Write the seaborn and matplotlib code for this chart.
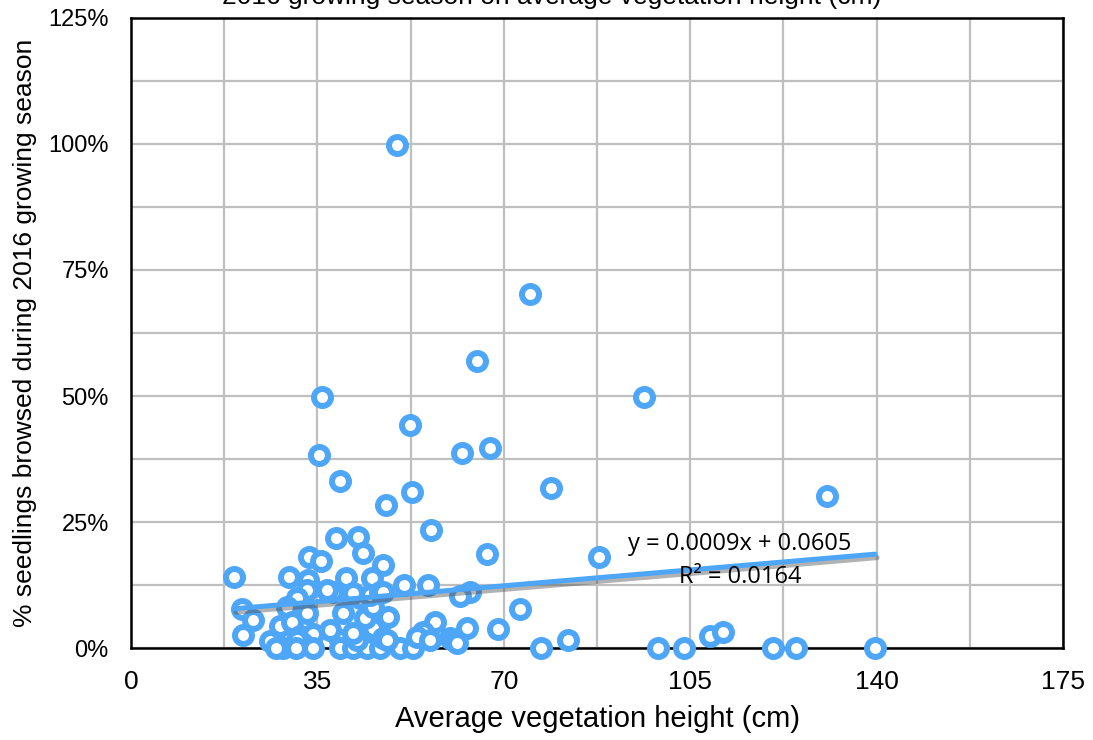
import numpy as np
import pandas as pd
import matplotlib
matplotlib.use("Agg")
import matplotlib.pyplot as plt
import matplotlib.patheffects as pe
from matplotlib.ticker import MultipleLocator, PercentFormatter
import seaborn as sns

# vegetation height (cm) and share of seedlings browsed (%)
veg_height = [
    50.0, 74.9, 65.0, 35.9, 96.3, 52.4, 35.3, 62.1, 67.4, 39.2, 78.9, 52.8, 130.7,
    47.9, 56.3, 38.5, 42.6, 66.8, 87.9, 33.4, 35.7, 43.6, 47.3, 19.3, 29.7, 40.4,
    45.2, 33.4, 51.3, 55.8, 20.9, 21.1, 22.9, 63.6, 61.8, 73.0, 68.9, 82.0, 77.0,
    98.9, 103.8, 108.7, 111.2, 120.5, 124.9, 139.7,
    33.2, 33.0, 31.2, 37.9, 36.8, 29.3, 33.0, 39.8, 28.0, 30.2, 26.1, 31.7, 34.2,
    32.1, 28.5, 34.2, 31.2, 39.2, 37.4, 39.2, 41.7, 44.3, 46.8, 50.5, 52.9, 42.4,
    41.7, 45.4, 47.3, 48.1, 44.0, 48.3, 45.4, 43.0, 41.7, 44.9, 46.8, 47.3, 57.1,
    54.8, 53.7, 56.1, 59.9, 60.5, 61.2, 63.1, 31.0, 27.2,
]
pct_browsed = [
    99.8, 70.2, 56.9, 49.8, 49.8, 44.2, 38.3, 38.7, 39.7, 33.1, 31.7, 31.0, 30.2,
    28.4, 23.4, 21.8, 22.0, 18.7, 18.1, 18.1, 17.3, 18.8, 16.5, 14.1, 14.1, 13.9,
    13.9, 12.5, 12.5, 12.5, 7.7, 2.6, 5.6, 11.1, 10.3, 7.7, 3.8, 1.6, 0.0,
    0.0, 0.0, 2.4, 3.2, 0.0, 0.0, 0.0,
    13.5, 11.5, 9.9, 11.1, 11.5, 8.1, 6.9, 6.9, 4.4, 5.2, 1.4, 2.4, 2.8,
    1.0, 0.0, 0.0, 1.6, 1.6, 3.6, 0.0, 0.0, 0.0, 0.0, 0.0, 0.0, 1.6,
    3.0, 4.0, 2.0, 1.6, 6.0, 6.2, 8.1, 9.9, 10.9, 10.5, 11.1, 11.1, 5.2,
    3.2, 2.2, 1.6, 2.0, 1.6, 1.0, 4.0, 0.0, 0.0,
]

# Excel linear trendline shown on the chart
slope, intercept = 0.0009, 0.0605
r_squared = 0.0164

df = pd.DataFrame({"height": veg_height, "browsed": np.array(pct_browsed) / 100})

sns.set_style("white")
plt.rcParams["font.family"] = ["Liberation Sans", "DejaVu Sans"]
plt.rcParams["text.color"] = "black"
plt.rcParams["axes.labelcolor"] = "black"

blue = "#4DA6F8"

fig = plt.figure(figsize=(10.93, 7.40), dpi=100)
ax = fig.add_axes([0.1199, 0.1243, 0.8527, 0.8514])

sns.scatterplot(data=df, x="height", y="browsed", ax=ax, s=150, marker="o",
                facecolor="white", edgecolor=blue, linewidth=4.3,
                clip_on=False, zorder=3, legend=False)

# trendline over the data range
xs = np.array([df["height"].min(), df["height"].max()])
ax.plot(xs, slope * xs + intercept, color=blue, lw=3.6, zorder=4,
        path_effects=[pe.SimpleLineShadow(offset=(1.5, -2.5), shadow_color="#555555", alpha=0.45),
                      pe.Normal()])

ax.text(114.3, 0.206, f"y = {slope:.4f}x + {intercept:.4f}", ha="center", va="center",
        fontsize=17, family=["Open Sans", "DejaVu Sans"], zorder=5)
ax.text(114.3, 0.141, f"R² = {r_squared:.4f}", ha="center", va="center",
        fontsize=17, family=["Open Sans", "DejaVu Sans"], zorder=5)

ax.set_xlim(0, 175)
ax.set_ylim(0, 1.25)
ax.xaxis.set_major_locator(MultipleLocator(35))
ax.xaxis.set_minor_locator(MultipleLocator(17.5))
ax.yaxis.set_major_locator(MultipleLocator(0.25))
ax.yaxis.set_minor_locator(MultipleLocator(0.125))
ax.yaxis.set_major_formatter(PercentFormatter(1.0, decimals=0))
ax.grid(True, which="both", color="#BFBFBF", lw=1.6)
ax.set_axisbelow(True)
ax.tick_params(axis="both", which="both", length=0, colors="black")
ax.tick_params(axis="x", pad=16, labelsize=19)
ax.tick_params(axis="y", pad=16, labelsize=17)

for sp in ax.spines.values():
    sp.set_color("black")
    sp.set_linewidth(1.8)

ax.set_xlabel("Average vegetation height (cm)", fontsize=21, labelpad=8)
ax.set_ylabel("% seedlings browsed during 2016 growing season", fontsize=19, labelpad=8)

fig.text(0.505, 1.004, "2016 growing season on average vegetation height (cm)",
         ha="center", va="center", fontsize=19)

fig.savefig("out.png", dpi=100)
